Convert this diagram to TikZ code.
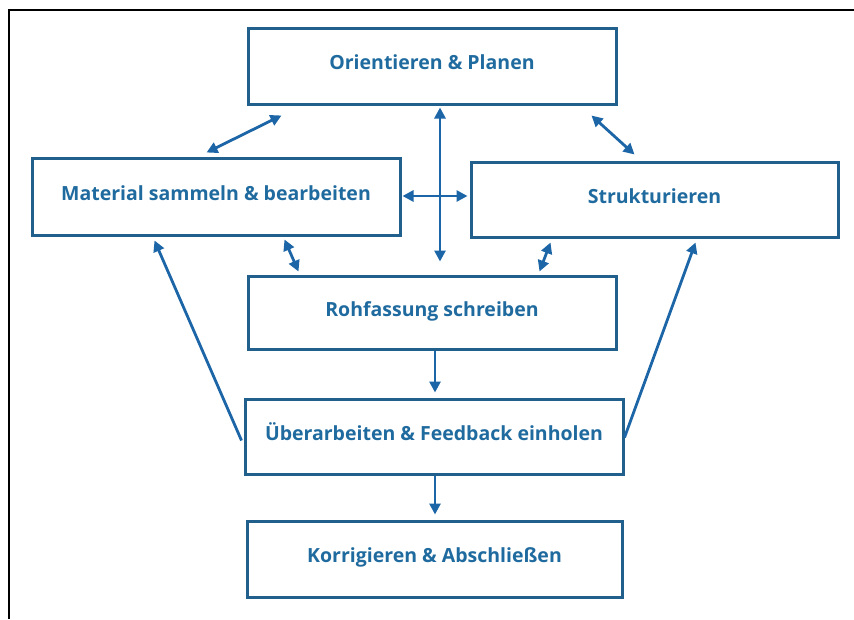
\documentclass[tikz,border=0pt]{standalone}
\usepackage{fontspec}
\setmainfont{Open Sans}
\usetikzlibrary{arrows.meta,calc}
\definecolor{boxc}{RGB}{33,96,140}
\definecolor{txtc}{RGB}{31,106,158}
\definecolor{arrc}{RGB}{28,101,166}
\tikzset{
  box/.style={draw=boxc,line width=3pt,minimum width=#1,inner sep=0pt,text height=15pt,text depth=8pt,font=\fontsize{19.5}{23}\selectfont\bfseries,text=txtc},
  arr/.style={draw=arrc,line width=2.8pt,{Triangle[length=11pt,width=11pt]}-{Triangle[length=11pt,width=11pt]}},
  arrone/.style={draw=arrc,line width=2.8pt,-{Triangle[length=11pt,width=11pt]}},
}
\begin{document}
\begin{tikzpicture}[x=1pt,y=-1pt]
\useasboundingbox (0,0) rectangle (854,619);
\draw[line width=2.4pt,black] (854,10) -- (9,10) -- (9,619);
\node[box=368pt,minimum height=76pt] (orient) at (432,66) {Orientieren \& Planen};
\node[box=368pt,minimum height=77pt] (material) at (216,196.5) {Material sammeln \& bearbeiten};
\node[box=367pt,minimum height=75pt] (struktur) at (654.5,199.5) {Strukturieren};
\node[box=368pt,minimum height=73pt] (rohf) at (432,312.5) {Rohfassung schreiben};
\node[box=378pt,minimum height=75pt] (ueber) at (434,436.5) {Überarbeiten \& Feedback einholen};
\node[box=375pt,minimum height=76pt] (korr) at (434.5,559) {Korrigieren \& Abschließen};
% bidirectional
\draw[arr] ([xshift=35pt,yshift=-10pt]orient.south west) -- ([xshift=176pt,yshift=4pt]material.north west);
\draw[arr] ([xshift=-26pt,yshift=-10pt]orient.south east) -- ([xshift=165pt,yshift=6pt]struktur.north west);
\draw[arr] ([xshift=8pt,yshift=-2pt]orient.south) -- ([xshift=8pt,yshift=13pt]rohf.north);
\draw[arr] ([xshift=1pt,yshift=0.5pt]material.east) -- ([xshift=-2pt,yshift=3.5pt]struktur.west);
\draw[arr] ([xshift=254pt,yshift=-3pt]material.south west) -- ([xshift=52pt,yshift=3pt]rohf.north west);
\draw[arr] ([xshift=81pt,yshift=-4pt]struktur.south west) -- ([xshift=-78pt,yshift=3pt]rohf.north east);
% one-way
\draw[arrone] ([xshift=-2pt,yshift=-4pt]ueber.west) -- ([xshift=124pt,yshift=-4pt]material.south west);
\draw[arrone] ([xshift=0pt,yshift=-1pt]ueber.east) -- ([xshift=226pt,yshift=-4pt]struktur.south west);
\draw[arrone] ([xshift=3pt]rohf.south) -- ([xshift=1pt,yshift=5pt]ueber.north);
\draw[arrone] ([xshift=1pt]ueber.south) -- ([xshift=0.5pt,yshift=5pt]korr.north);
\end{tikzpicture}
\end{document}
